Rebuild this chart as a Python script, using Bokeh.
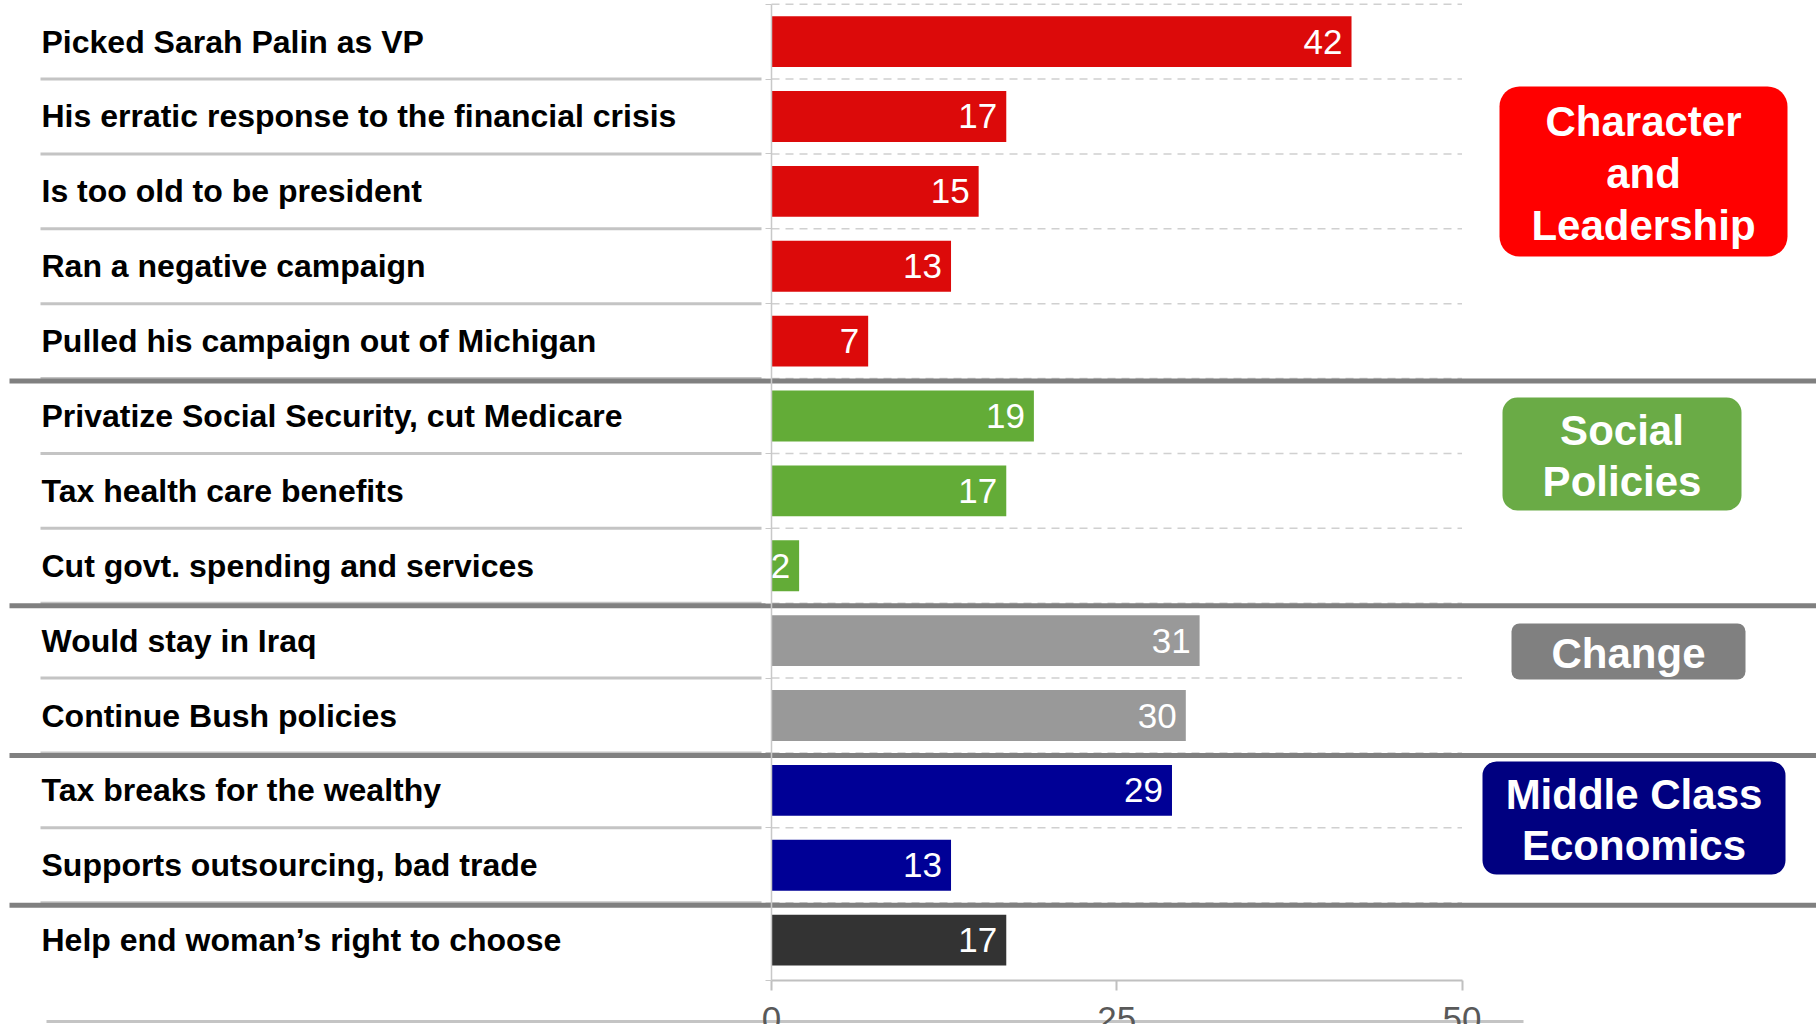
from bokeh.plotting import figure
from bokeh.models import Range1d, LinearAxis, FixedTicker, BoxAnnotation, ColumnDataSource
from bokeh.core.properties import value
from bokeh.embed import file_html
from bokeh.resources import INLINE

# ---------------- data ----------------
labels = [
    "Picked Sarah Palin as VP",
    "His erratic response to the financial crisis",
    "Is too old to be president",
    "Ran a negative campaign",
    "Pulled his campaign out of Michigan",
    "Privatize Social Security, cut Medicare",
    "Tax health care benefits",
    "Cut govt. spending and services",
    "Would stay in Iraq",
    "Continue Bush policies",
    "Tax breaks for the wealthy",
    "Supports outsourcing, bad trade",
    "Help end woman\u2019s right to choose",
]
values = [42, 17, 15, 13, 7, 19, 17, 2, 31, 30, 29, 13, 17]
group_names = ["Character\nand\nLeadership", "Social\nPolicies", "Change", "Middle Class\nEconomics", ""]
group_sizes = [5, 3, 2, 2, 1]
bar_colors = ["#DC0A0A", "#63AC37", "#999999", "#000096", "#333333"]
box_colors = ["#FF0000", "#6AAB46", "#808080", "#000080"]
x_ticks = [0, 25, 50]

# ---------------- layout (canvas pixels) ----------------
W, H = 1816, 1024
X_ZERO_PX = 771.0
PX_PER_UNIT = 13.81
Y_ROW0_PX = 41.1
ROW_PX = 74.88
BAR_H = 0.68
LABEL_LEFT_PX = 41
SEP_LEFT_PX, SEP_RIGHT_PX = 40, 761
# group boxes: left, right, top, bottom, radius (canvas px)
BOXES = [
    (1499, 1787, 86, 256, 20),
    (1502, 1741, 397, 510, 15),
    (1511, 1745, 623, 679, 8),
    (1482, 1785, 761, 874, 14),
]


def px_x(px):
    return (px - X_ZERO_PX) / PX_PER_UNIT


def px_y(px):
    return (px - Y_ROW0_PX) / ROW_PX


n = len(labels)
rows = list(range(n))
colors = []
for size, c in zip(group_sizes, bar_colors):
    colors += [c] * size

x_range = Range1d(px_x(0), px_x(W))
y_range = Range1d(px_y(H), px_y(0))

p = figure(width=W, height=H, x_range=x_range, y_range=y_range,
           output_backend="svg", toolbar_location=None, min_border=0,
           x_axis_location=None, y_axis_location=None, title=None)
p.outline_line_color = None
p.xgrid.visible = False
p.ygrid.visible = False
p.background_fill_color = "white"
p.border_fill_color = "white"

x_max = max(x_ticks)
axis_y = n - 0.5 + 3 / ROW_PX
boundaries = [k - 0.5 for k in range(n)]  # top of each row

# dashed grid lines at row boundaries
p.segment(x0=[0] * n, x1=[x_max] * n, y0=boundaries, y1=boundaries,
          line_color="#D0D0D0", line_width=1.5, line_dash="8 6")

# light label separators
seps = [k + 0.5 for k in range(n - 1)]
p.segment(x0=[px_x(SEP_LEFT_PX)] * len(seps), x1=[px_x(SEP_RIGHT_PX)] * len(seps),
          y0=seps, y1=seps, line_color="#C4C4C4", line_width=3)

# thick group separators
gb = []
acc = 0
for s in group_sizes[:-1]:
    acc += s
    gb.append(acc - 0.5 + 2.5 / ROW_PX)
p.segment(x0=[px_x(9)] * len(gb), x1=[px_x(W)] * len(gb), y0=gb, y1=gb,
          line_color="#808080", line_width=5)

# bottom slide border
p.segment(x0=[px_x(46)], x1=[px_x(1523)], y0=[px_y(1021)], y1=[px_y(1021)],
          line_color="#C4C4C4", line_width=3)

src = ColumnDataSource(dict(y=rows, v=values, c=colors, lab=labels,
                            t=[str(v) for v in values]))

p.hbar(y="y", left=0, right="v", height=BAR_H, fill_color="c", line_color=None, source=src)

p.text(x="v", y="y", text="t", source=src, x_offset=-9,
       text_align="right", text_baseline="middle", text_color="white",
       text_font=value("Liberation Sans"), text_font_size="35px")

p.text(x=px_x(LABEL_LEFT_PX), y="y", text="lab", source=src,
       text_align="left", text_baseline="middle", text_color="black",
       text_font=value("Liberation Sans"), text_font_style="bold", text_font_size="32px")

# group boxes
for (l, r, t, b, rad), col in zip(BOXES, box_colors):
    p.add_layout(BoxAnnotation(left=px_x(l), right=px_x(r), top=px_y(t), bottom=px_y(b),
                               fill_color=col, fill_alpha=1.0, line_color=None,
                               border_radius=rad, level="underlay"))
bx = [px_x((l + r) / 2) for (l, r, t, b, rad) in BOXES]
by = [px_y((t + b) / 2 + 2) for (l, r, t, b, rad) in BOXES]
p.text(x=bx, y=by, text=group_names[:len(BOXES)], text_align="center", text_baseline="middle",
       text_color="white", text_font=value("Liberation Sans"), text_font_style="bold",
       text_font_size="42px", text_line_height=1.1)

# axes
xaxis = LinearAxis(fixed_location=axis_y, bounds=(0, x_max), ticker=FixedTicker(ticks=x_ticks))
xaxis.axis_line_color = "#C0C0C0"
xaxis.axis_line_width = 2
xaxis.major_tick_line_color = "#C0C0C0"
xaxis.major_tick_line_width = 2
xaxis.major_tick_in = 0
xaxis.major_tick_out = 10
xaxis.minor_tick_line_color = None
xaxis.major_label_standoff = 16
xaxis.major_label_text_font = "Liberation Sans"
xaxis.major_label_text_font_size = "35px"
xaxis.major_label_text_color = "#595959"
p.add_layout(xaxis, "below")

yaxis = LinearAxis(fixed_location=0, bounds=(-0.5, axis_y),
                   ticker=FixedTicker(ticks=boundaries + [axis_y]))
yaxis.axis_line_color = "#C8C8C8"
yaxis.axis_line_width = 1.5
yaxis.major_tick_line_color = "#C8C8C8"
yaxis.major_tick_in = 0
yaxis.major_tick_out = 6
yaxis.minor_tick_line_color = None
yaxis.major_label_text_color = None
p.add_layout(yaxis, "left")

open("out.html", "w").write(file_html(p, INLINE))
